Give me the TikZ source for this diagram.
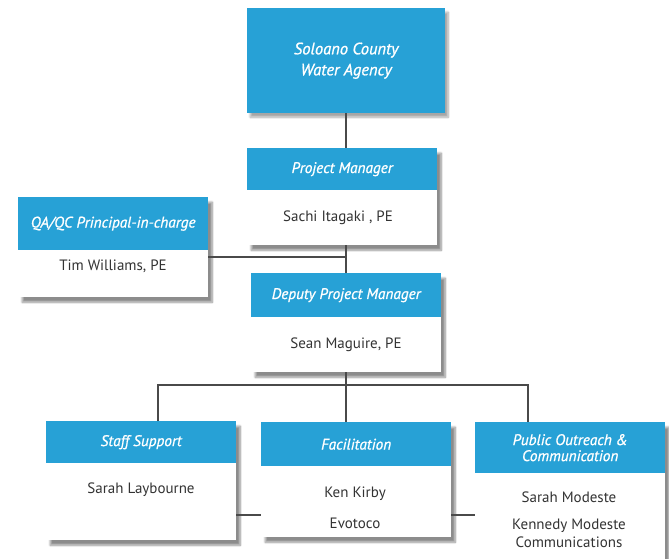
\documentclass[tikz,border=0pt]{standalone}
\usepackage{fontspec}
\setmainfont{PT Sans}
\newfontfamily\headfont[FakeBold=0.9]{PT Sans}
\usepackage{xcolor}
\usetikzlibrary{positioning,shadows.blur,calc}

\definecolor{boxblue}{HTML}{27A1D6}
\definecolor{inkgray}{HTML}{333333}
\definecolor{linegray}{HTML}{4A4A4A}

\begin{document}
\begin{tikzpicture}[x=1pt, y=-1pt]
    % Define styles
    \tikzset{card/.style={fill=white, anchor=north west, inner sep=0pt, minimum width=190pt,
        blur shadow={shadow xshift=4pt, shadow yshift=-5pt, shadow blur steps=10, shadow opacity=45}}}
    \tikzset{head/.style={fill=boxblue, anchor=north west, inner sep=0pt, minimum width=190pt,
        text=white, align=center, font=\headfont\itshape\fontsize{15.3}{15}\selectfont}}
    \tikzset{who/.style={text=inkgray, align=center, font=\fontsize{15}{18}\selectfont}}
    \tikzset{link/.style={draw=linegray, line width=1.2pt}}

    \useasboundingbox (0,0) rectangle (669,559);

    % Agency
    \node[head, minimum width=198pt, minimum height=105pt, font=\headfont\itshape\fontsize{16.5}{21}\selectfont,
        blur shadow={shadow xshift=3pt, shadow yshift=-4pt, shadow blur steps=10, shadow opacity=35}]
        (agency) at (247,8) {Soloano County\\Water Agency};

    % Project manager
    \node[card, minimum height=97pt] (pmCard) at (247,148) {};
    \node[head, minimum height=42pt] (pmHead) at (247,148) {Project Manager};
    \node[who] (pmName) at (338,218) {Sachi Itagaki , PE};

    % QA/QC
    \node[card, minimum height=100pt] (qaCard) at (18,197) {};
    \node[head, minimum height=53pt] (qaHead) at (18,197) {QA/QC Principal-in-charge};
    \node[who] (qaName) at (113,266) {Tim Williams, PE};

    % Deputy
    \node[card, minimum height=99pt] (depCard) at (251,273) {};
    \node[head, minimum height=44pt] (depHead) at (251,273) {Deputy Project Manager};
    \node[who] (depName) at (346,345) {Sean Maguire, PE};

    % Staff support
    \node[card, minimum height=119pt] (staffCard) at (46,421) {};
    \node[head, minimum height=42pt] (staffHead) at (46,421) {Staff Support};
    \node[who] (staffName) at (141,490) {Sarah Laybourne};

    % Facilitation
    \node[card, minimum height=115pt] (facCard) at (261,422) {};
    \node[head, minimum height=44pt] (facHead) at (261,422) {Facilitation};
    \node[who] (facName) at (355,494) {Ken Kirby};
    \node[who] (facFirm) at (355,523) {Evotoco};

    % Public outreach
    \node[card, minimum height=150pt] (pubCard) at (475,422) {};
    \node[head, minimum height=51pt, font=\headfont\itshape\fontsize{15.3}{16}\selectfont] (pubHead) at (475,422) {Public Outreach \&\\Communication};
    \node[who] (pubName) at (569,497) {Sarah Modeste};
    \node[who] (pubFirm) at (569,533) {Kennedy Modeste\\Communications};

    % Connectors
    \coordinate (qaJoin) at (346,257);
    \coordinate (busL) at (158,385);
    \coordinate (busM) at (346,385);
    \coordinate (busR) at (528,385);
    \coordinate (lowJoin) at (0,515);

    \draw[link] (agency.south -| qaJoin) -- (pmHead.north -| qaJoin);
    \draw[link] (pmCard.south -| qaJoin) -- (depHead.north -| qaJoin);
    \draw[link] (qaCard.east |- qaJoin) -- (qaJoin);
    \draw[link] (depCard.south -| busM) -- (facHead.north -| busM);
    \draw[link] (staffHead.north -| busL) -- (busL) -- (busR) -- (pubHead.north -| busR);
    \draw[link] (staffCard.east |- lowJoin) -- (facCard.west |- lowJoin);
    \draw[link] (facCard.east |- lowJoin) -- (pubCard.west |- lowJoin);
\end{tikzpicture}
\end{document}
